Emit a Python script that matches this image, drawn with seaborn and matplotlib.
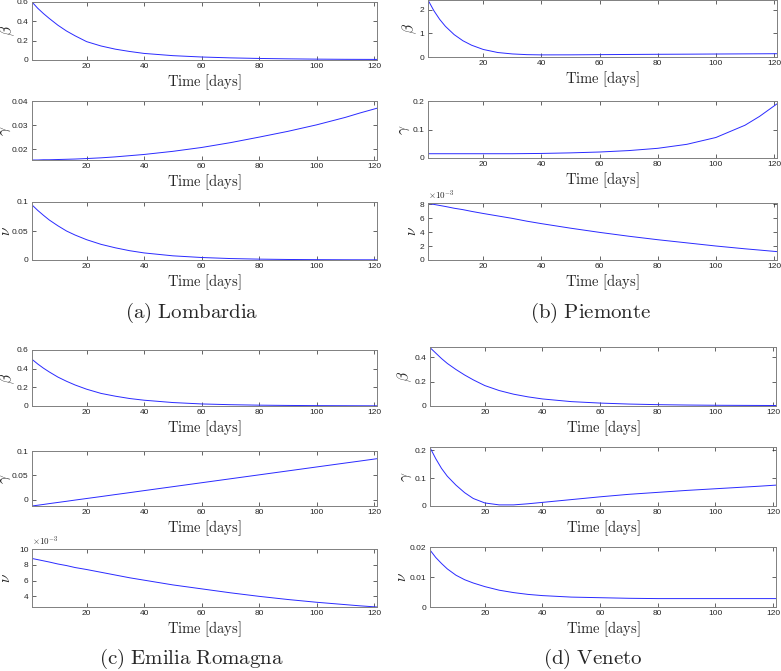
import numpy as np
import pandas as pd
import seaborn as sns
from matplotlib import pyplot as plt

# sample days
days = [1, 3, 5, 7, 10, 13, 16, 20, 25, 30, 35, 40, 50, 60, 70, 80, 90, 100, 110, 115, 121]

# (a) Lombardia
beta_lombardia = [0.60, 0.535, 0.48, 0.43, 0.36, 0.30, 0.25, 0.19, 0.145, 0.112, 0.088, 0.068,
                  0.045, 0.031, 0.022, 0.016, 0.012, 0.009, 0.007, 0.0065, 0.006]
gamma_lombardia = [0.0155, 0.0155, 0.0156, 0.0156, 0.0157, 0.0158, 0.0159, 0.0161, 0.0164, 0.0168,
                   0.0173, 0.0178, 0.0191, 0.0207, 0.0227, 0.0250, 0.0274, 0.0301, 0.0332, 0.0350,
                   0.0370]
nu_lombardia = [0.095, 0.0855, 0.077, 0.069, 0.059, 0.050, 0.043, 0.035, 0.027, 0.021, 0.016, 0.0122,
                0.0072, 0.0043, 0.0025, 0.0015, 0.0009, 0.0006, 0.0004, 0.00035, 0.0003]

# (b) Piemonte
beta_piemonte = [2.42, 1.97, 1.60, 1.30, 0.95, 0.69, 0.50, 0.32, 0.19, 0.13, 0.10, 0.09,
                 0.092, 0.10, 0.108, 0.115, 0.12, 0.127, 0.133, 0.136, 0.14]
gamma_piemonte = [0.015, 0.015, 0.015, 0.015, 0.015, 0.015, 0.015, 0.015, 0.015, 0.015, 0.0155, 0.016,
                  0.018, 0.021, 0.026, 0.034, 0.048, 0.072, 0.115, 0.146, 0.19]
nu_piemonte = [8.1e-3, 7.95e-3, 7.8e-3, 7.65e-3, 7.4e-3, 7.2e-3, 6.95e-3, 6.65e-3, 6.3e-3, 5.95e-3,
               5.55e-3, 5.2e-3, 4.55e-3, 3.95e-3, 3.4e-3, 2.9e-3, 2.45e-3, 2.0e-3, 1.6e-3, 1.42e-3,
               1.2e-3]

# (c) Emilia Romagna
beta_emilia = [0.50, 0.45, 0.405, 0.365, 0.31, 0.265, 0.225, 0.18, 0.135, 0.105, 0.08, 0.062,
               0.037, 0.022, 0.014, 0.009, 0.006, 0.004, 0.003, 0.0025, 0.002]
gamma_emilia = [-0.0130, -0.0114, -0.0098, -0.0081, -0.0057, -0.0033, -0.0008, 0.0024, 0.0064, 0.0105,
                0.0145, 0.0186, 0.0267, 0.0348, 0.0429, 0.0510, 0.0591, 0.0672, 0.0753, 0.0793,
                0.0842]
nu_emilia = [8.8e-3, 8.65e-3, 8.5e-3, 8.35e-3, 8.1e-3, 7.9e-3, 7.65e-3, 7.4e-3, 7.05e-3, 6.7e-3,
             6.35e-3, 6.05e-3, 5.45e-3, 4.95e-3, 4.45e-3, 4.0e-3, 3.6e-3, 3.25e-3, 2.95e-3, 2.8e-3,
             2.65e-3]

# (d) Veneto
beta_veneto = [0.48, 0.435, 0.39, 0.35, 0.30, 0.255, 0.215, 0.168, 0.127, 0.097, 0.075, 0.058,
               0.036, 0.024, 0.016, 0.011, 0.008, 0.006, 0.005, 0.0045, 0.004]
gamma_veneto = [0.21, 0.17, 0.135, 0.107, 0.075, 0.048, 0.027, 0.011, 0.004, 0.004, 0.008, 0.013,
                0.023, 0.033, 0.042, 0.049, 0.056, 0.062, 0.068, 0.071, 0.075]
nu_veneto = [0.019, 0.0165, 0.0145, 0.0127, 0.0106, 0.0091, 0.0080, 0.0068, 0.0056, 0.0048, 0.0042,
             0.0038, 0.0033, 0.0031, 0.0029, 0.0028, 0.0028, 0.0028, 0.0028, 0.0028, 0.0028]

captions = ['(a) Lombardia', '(b) Piemonte', '(c) Emilia Romagna', '(d) Veneto']
param_symbols = [r'$\beta$', r'$\gamma$', r'$\nu$']
x_ticks = [20, 40, 60, 80, 100, 120]


def main():
    sns.set_style('ticks')
    plt.rcParams['font.family'] = ['Liberation Sans', 'DejaVu Sans']
    plt.rcParams['mathtext.fontset'] = 'cm'

    W, H = 781, 671
    fig = plt.figure(figsize=(W / 100, H / 100), dpi=100)

    series = [
        [beta_lombardia, gamma_lombardia, nu_lombardia],
        [beta_piemonte, gamma_piemonte, nu_piemonte],
        [beta_emilia, gamma_emilia, nu_emilia],
        [beta_veneto, gamma_veneto, nu_veneto],
    ]
    # axis limits, ticks, scale factor for the x10^-3 axes
    y_setup = [
        [((0, 0.6), [0, 0.2, 0.4, 0.6], 1), ((0.0155, 0.04), [0.02, 0.03, 0.04], 1),
         ((0, 0.1), [0, 0.05, 0.1], 1)],
        [((0, 2.42), [0, 1, 2], 1), ((0, 0.2), [0, 0.1, 0.2], 1),
         ((0, 8.15e-3), [0, 2e-3, 4e-3, 6e-3, 8e-3], 1e3)],
        [((0, 0.6), [0, 0.2, 0.4, 0.6], 1), ((-0.013, 0.1), [0, 0.05, 0.1], 1),
         ((2.65e-3, 10e-3), [4e-3, 6e-3, 8e-3, 10e-3], 1e3)],
        [((0, 0.485), [0, 0.2, 0.4], 1), ((0, 0.212), [0, 0.1, 0.2], 1),
         ((0, 0.02), [0, 0.01, 0.02], 1)],
    ]
    # pixel boxes (left, right) and rows (top, bottom)
    cols = [(32, 377), (428, 777), (32, 377), (430, 776)]
    rows = [
        [(2, 60), (101, 160), (202, 260)],
        [(0, 57), (101, 158), (203, 260)],
        [(350, 406), (451, 506), (549, 607)],
        [(347, 406), (447, 506), (547, 607)],
    ]
    # right edge (px) of the y label in the left column, where MATLAB crowds it to the border
    left_label_x = [17, 13, 13]
    caption_pos = [(192, 313), (591, 313), (191, 659), (593, 659)]

    for p in range(4):
        l, r = cols[p]
        for k in range(3):
            t, b = rows[p][k]
            ax = fig.add_axes([l / W, 1 - b / H, (r - l) / W, (b - t) / H])
            df = pd.DataFrame({'day': days, 'value': series[p][k]})
            sns.lineplot(data=df, x='day', y='value', ax=ax, color='#2a2aff', linewidth=0.7)
            lim, ticks, scale = y_setup[p][k]
            ax.set_xlim(1, 121)
            ax.set_ylim(*lim)
            ax.set_xticks(x_ticks)
            ax.set_xticklabels([str(v) for v in x_ticks])
            ax.set_yticks(ticks)
            ax.set_yticklabels([f'{v * scale:g}' for v in ticks])
            if scale != 1:
                ax.text(0.0, 1.01, r'$\times10^{-3}$', transform=ax.transAxes,
                        fontsize=6.5, color='#262626', ha='left', va='bottom')
            ax.tick_params(direction='in', length=3, width=0.5, top=True, right=True,
                           labelsize=6, colors='#262626', pad=2.5)
            for s in ax.spines.values():
                s.set_color('#808080')
                s.set_linewidth(0.7)
            ax.set_xlabel(r'$\mathrm{Time\ [days]}$', fontsize=10.5, labelpad=1.5)
            ax.set_ylabel(param_symbols[k], fontsize=11, labelpad=0.5)
            if p in (0, 2):
                ax.yaxis.set_label_coords((left_label_x[k] - l) / (r - l), 0.5)

        cx, cy = caption_pos[p]
        name = captions[p].replace(' ', r'\ ')
        fig.text(cx / W, 1 - cy / H, r'$\mathrm{' + name + '}$', fontsize=15,
                 ha='center', va='center')

    fig.savefig('out.png', dpi=100)


if __name__ == '__main__':
    main()
